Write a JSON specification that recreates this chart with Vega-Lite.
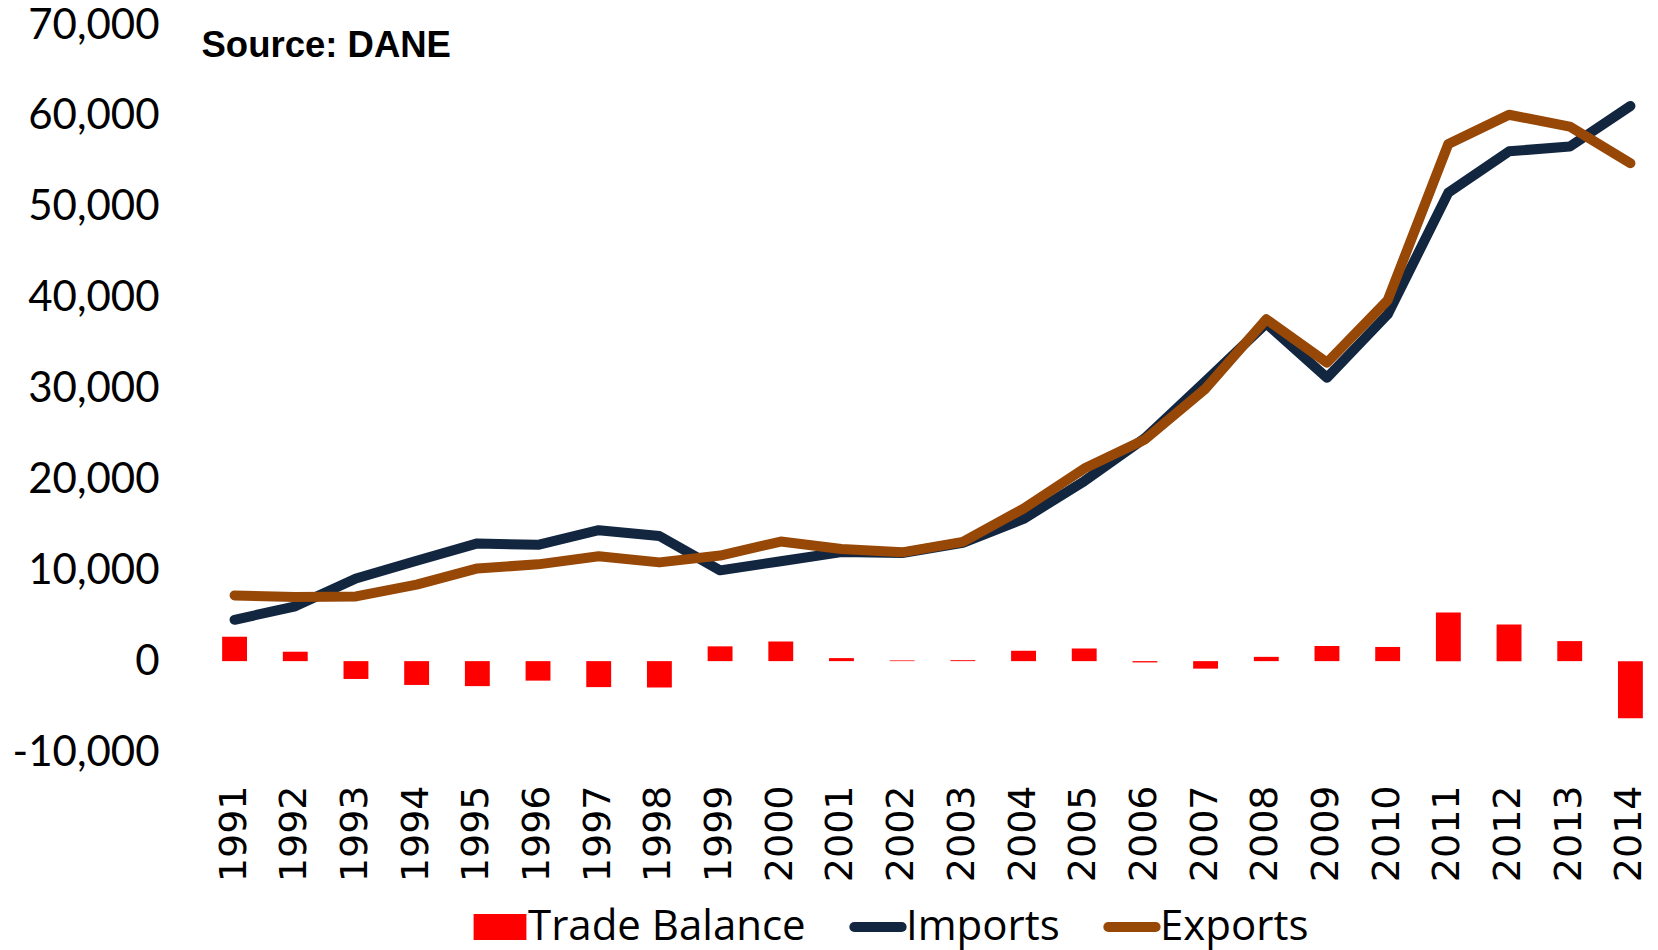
{
  "$schema": "https://vega.github.io/schema/vega-lite/v6.json",
  "width": 1445,
  "height": 727,
  "autosize": {"type": "none"},
  "padding": {"left": 210, "top": 25, "right": 3, "bottom": 198},
  "background": "white",
  "config": {"view": {"stroke": null}},
  "data": {"values": [
    {"year": "1991", "series": "Trade Balance", "value": 2684},
    {"year": "1992", "series": "Trade Balance", "value": 1035},
    {"year": "1993", "series": "Trade Balance", "value": -1963},
    {"year": "1994", "series": "Trade Balance", "value": -2621},
    {"year": "1995", "series": "Trade Balance", "value": -2751},
    {"year": "1996", "series": "Trade Balance", "value": -2146},
    {"year": "1997", "series": "Trade Balance", "value": -2860},
    {"year": "1998", "series": "Trade Balance", "value": -2902},
    {"year": "1999", "series": "Trade Balance", "value": 1626},
    {"year": "2000", "series": "Trade Balance", "value": 2160},
    {"year": "2001", "series": "Trade Balance", "value": 333},
    {"year": "2002", "series": "Trade Balance", "value": 78},
    {"year": "2003", "series": "Trade Balance", "value": 103},
    {"year": "2004", "series": "Trade Balance", "value": 1139},
    {"year": "2005", "series": "Trade Balance", "value": 1391},
    {"year": "2006", "series": "Trade Balance", "value": -143},
    {"year": "2007", "series": "Trade Balance", "value": -825},
    {"year": "2008", "series": "Trade Balance", "value": 471},
    {"year": "2009", "series": "Trade Balance", "value": 1665},
    {"year": "2010", "series": "Trade Balance", "value": 1559},
    {"year": "2011", "series": "Trade Balance", "value": 5359},
    {"year": "2012", "series": "Trade Balance", "value": 4023},
    {"year": "2013", "series": "Trade Balance", "value": 2204},
    {"year": "2014", "series": "Trade Balance", "value": -6293},
    {"year": "1991", "series": "Imports", "value": 4548},
    {"year": "1992", "series": "Imports", "value": 6030},
    {"year": "1993", "series": "Imports", "value": 9086},
    {"year": "1994", "series": "Imports", "value": 11040},
    {"year": "1995", "series": "Imports", "value": 12952},
    {"year": "1996", "series": "Imports", "value": 12794},
    {"year": "1997", "series": "Imports", "value": 14409},
    {"year": "1998", "series": "Imports", "value": 13768},
    {"year": "1999", "series": "Imports", "value": 9991},
    {"year": "2000", "series": "Imports", "value": 10998},
    {"year": "2001", "series": "Imports", "value": 11997},
    {"year": "2002", "series": "Imports", "value": 11897},
    {"year": "2003", "series": "Imports", "value": 13026},
    {"year": "2004", "series": "Imports", "value": 15649},
    {"year": "2005", "series": "Imports", "value": 19799},
    {"year": "2006", "series": "Imports", "value": 24534},
    {"year": "2007", "series": "Imports", "value": 30816},
    {"year": "2008", "series": "Imports", "value": 37155},
    {"year": "2009", "series": "Imports", "value": 31181},
    {"year": "2010", "series": "Imports", "value": 38154},
    {"year": "2011", "series": "Imports", "value": 51556},
    {"year": "2012", "series": "Imports", "value": 56102},
    {"year": "2013", "series": "Imports", "value": 56620},
    {"year": "2014", "series": "Imports", "value": 61088},
    {"year": "1991", "series": "Exports", "value": 7232},
    {"year": "1992", "series": "Exports", "value": 7065},
    {"year": "1993", "series": "Exports", "value": 7123},
    {"year": "1994", "series": "Exports", "value": 8419},
    {"year": "1995", "series": "Exports", "value": 10201},
    {"year": "1996", "series": "Exports", "value": 10648},
    {"year": "1997", "series": "Exports", "value": 11549},
    {"year": "1998", "series": "Exports", "value": 10866},
    {"year": "1999", "series": "Exports", "value": 11617},
    {"year": "2000", "series": "Exports", "value": 13158},
    {"year": "2001", "series": "Exports", "value": 12330},
    {"year": "2002", "series": "Exports", "value": 11975},
    {"year": "2003", "series": "Exports", "value": 13129},
    {"year": "2004", "series": "Exports", "value": 16788},
    {"year": "2005", "series": "Exports", "value": 21190},
    {"year": "2006", "series": "Exports", "value": 24391},
    {"year": "2007", "series": "Exports", "value": 29991},
    {"year": "2008", "series": "Exports", "value": 37626},
    {"year": "2009", "series": "Exports", "value": 32846},
    {"year": "2010", "series": "Exports", "value": 39713},
    {"year": "2011", "series": "Exports", "value": 56915},
    {"year": "2012", "series": "Exports", "value": 60125},
    {"year": "2013", "series": "Exports", "value": 58824},
    {"year": "2014", "series": "Exports", "value": 54795}
  ]},
  "encoding": {
    "x": {"field": "year", "type": "ordinal",
      "scale": {"paddingInner": 0.59, "paddingOuter": 0.2},
      "axis": {"title": null, "labelAngle": 270, "labelFont": "DejaVu Sans", "labelFontSize": 38, "labelColor": "black", "labelPadding": 33, "ticks": false, "domain": false, "grid": false, "labelOverlap": false}},
    "y": {"field": "value", "type": "quantitative",
      "scale": {"domain": [-10000, 70000], "nice": false, "zero": false},
      "axis": {"title": "Source: DANE", "titleAngle": 0, "titleAlign": "left", "titleBaseline": "alphabetic", "titleX": -9, "titleY": 31, "titleFont": "Liberation Sans", "titleFontSize": 36.5, "titleFontWeight": "bold", "titleColor": "black",
        "values": [-10000, 0, 10000, 20000, 30000, 40000, 50000, 60000, 70000], "format": ",d", "labelExpr": "replace(datum.label, '\u2212', '-')", "grid": false, "domain": false, "ticks": false, "labelFont": "Lato", "labelFontSize": 42, "labelPadding": 51, "labelColor": "black"}},
    "color": {"field": "series", "type": "nominal",
      "scale": {"domain": ["Trade Balance", "Imports", "Exports"], "range": ["#FF0000", "#122640", "#974706"]},
      "legend": {"orient": "none", "legendX": 269, "legendY": 881, "direction": "horizontal", "title": null, "labelFont": "Open Sans", "labelFontSize": 42, "labelColor": "black", "labelLimit": 500, "symbolSize": 3025, "labelOffset": 7, "columnPadding": 28, "padding": 0,
        "encode": {"symbols": {"update": {
          "shape": {"signal": "datum.value === 'Trade Balance' ? 'M-0.96,-0.47H0.96V0.47H-0.96Z' : 'M-0.86,0H0.86'"},
          "fill": {"signal": "datum.value === 'Trade Balance' ? '#FF0000' : 'transparent'"},
          "stroke": {"signal": "datum.value === 'Imports' ? '#122640' : datum.value === 'Exports' ? '#974706' : 'transparent'"},
          "strokeWidth": {"signal": "datum.value === 'Trade Balance' ? 0 : 10"},
          "strokeCap": {"value": "round"},
          "opacity": {"value": 1}
        }}}}}
  },
  "layer": [
    {"transform": [{"filter": "datum.series === 'Trade Balance'"}], "mark": {"type": "bar"}},
    {"transform": [{"filter": "datum.series === 'Imports'"}], "mark": {"type": "line", "strokeWidth": 10, "strokeCap": "round", "strokeJoin": "round"}},
    {"transform": [{"filter": "datum.series === 'Exports'"}], "mark": {"type": "line", "strokeWidth": 10, "strokeCap": "round", "strokeJoin": "round"}}
  ]
}
